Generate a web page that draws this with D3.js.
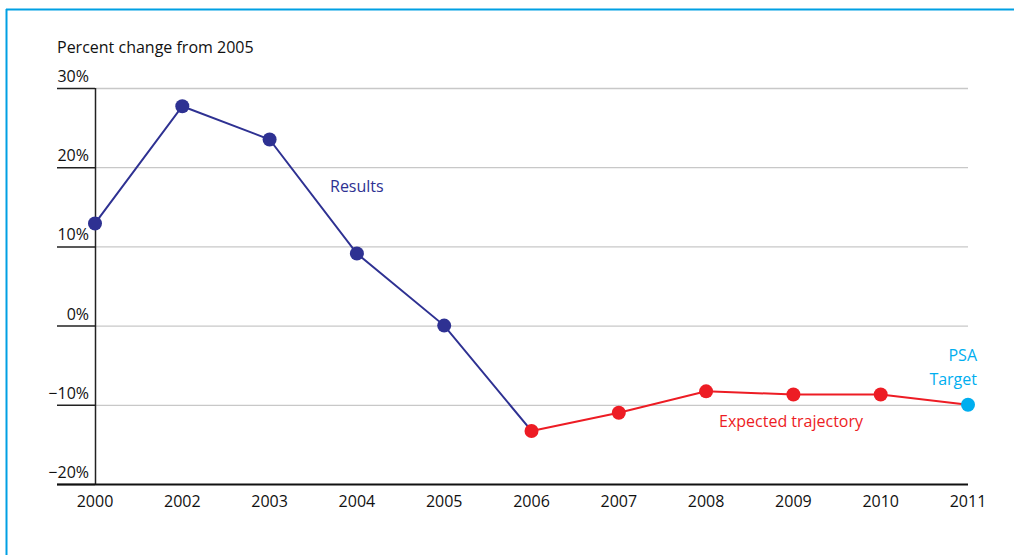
<!DOCTYPE html>
<html><head><meta charset="utf-8">
<script src="https://cdn.jsdelivr.net/npm/d3@7"></script>
<style>body{margin:0;background:#fff}svg{display:block}text{font-family:"Open Sans",sans-serif}</style>
</head><body>
<script>
const years = ["2000","2002","2003","2004","2005","2006","2007","2008","2009","2010","2011"];
const resultYears = ["2000","2002","2003","2004","2005","2006"];
const resultValues = [12.9, 27.7, 23.5, 9.1, 0, -13.3];
const expectedYears = ["2006","2007","2008","2009","2010","2011"];
const expectedValues = [-13.3, -11.0, -8.3, -8.7, -8.7, -10];
const targetYear = "2011";
const targetValue = -10;
const yTicks = [30, 20, 10, 0, -10, -20];
const yTickLabels = ["30%", "20%", "10%", "0%", "\u221210%", "\u221220%"];

const W = 1014, H = 555;
const FS = 16;
const svg = d3.select("body").append("svg").attr("width", W).attr("height", H);

// frame
svg.append("line").attr("x1",6.5).attr("x2",6.5).attr("y1",9).attr("y2",H).attr("stroke","#00a0e3").attr("stroke-width",2);
svg.append("line").attr("x1",6).attr("x2",W).attr("y1",9.5).attr("y2",9.5).attr("stroke","#00a0e3").attr("stroke-width",2);

const x = d3.scalePoint().domain(years).range([95, 968]);
const y = d3.scaleLinear().domain([-20, 30]).range([484, 88]);

// gridlines
svg.append("g").selectAll("line").data(yTicks.filter(d => d > -20)).join("line")
  .attr("x1", 95).attr("x2", 968).attr("y1", d => y(d)+0.5).attr("y2", d => y(d)+0.5)
  .attr("stroke", "#c8c8c8").attr("stroke-width", 1.3);

// tick marks
svg.append("g").selectAll("line").data(yTicks).join("line")
  .attr("x1", 57).attr("x2", 95).attr("y1", d => y(d)+0.5).attr("y2", d => y(d)+0.5)
  .attr("stroke", "#222").attr("stroke-width", 1.5);
svg.append("g").selectAll("text").data(yTicks).join("text")
  .attr("x", 89).attr("y", d => y(d) - 6).attr("text-anchor", "end")
  .attr("font-size", FS).attr("fill", "#111").text((d, i) => yTickLabels[i]);

// axes lines
svg.append("line").attr("x1", 95.5).attr("x2", 95.5).attr("y1", 88).attr("y2", 485).attr("stroke", "#222").attr("stroke-width", 1.5);
svg.append("line").attr("x1", 57).attr("x2", 968).attr("y1", y(-20)+0.5).attr("y2", y(-20)+0.5).attr("stroke", "#111").attr("stroke-width", 1.8);

svg.append("g").selectAll("text").data(years).join("text")
  .attr("x", d => x(d)).attr("y", 507).attr("text-anchor", "middle")
  .attr("font-size", FS).attr("fill", "#111").text(d => d);

svg.append("text").attr("x", 57).attr("y", 53).attr("font-size", FS).attr("fill", "#111").text("Percent change from 2005");

const line = d3.line().x(d => x(d[0])).y(d => y(d[1]));
const blue = "#2e3192", red = "#ed1c24", cyan = "#00aeef";
const res = resultYears.map((d, i) => [d, resultValues[i]]);
const exp = expectedYears.map((d, i) => [d, expectedValues[i]]);

svg.append("path").datum(res).attr("d", line).attr("fill", "none").attr("stroke", blue).attr("stroke-width", 2);
svg.append("path").datum(exp).attr("d", line).attr("fill", "none").attr("stroke", red).attr("stroke-width", 2);

svg.append("g").selectAll("circle").data(res.slice(0, 5)).join("circle")
  .attr("cx", d => x(d[0])).attr("cy", d => y(d[1])).attr("r", 7).attr("fill", blue);
svg.append("g").selectAll("circle").data(exp.slice(0, 5)).join("circle")
  .attr("cx", d => x(d[0])).attr("cy", d => y(d[1])).attr("r", 7).attr("fill", red);
svg.append("circle").attr("cx", x(targetYear)).attr("cy", y(targetValue)).attr("r", 7).attr("fill", cyan);

svg.append("text").attr("x", 330).attr("y", 192).attr("font-size", FS).attr("fill", blue).text("Results");
svg.append("text").attr("x", 719).attr("y", 427).attr("font-size", FS).attr("fill", red).text("Expected trajectory");
svg.append("text").attr("x", 977).attr("y", 361).attr("text-anchor", "end").attr("font-size", FS).attr("fill", cyan).text("PSA");
svg.append("text").attr("x", 977).attr("y", 385).attr("text-anchor", "end").attr("font-size", FS).attr("fill", cyan).text("Target");
</script>
</body></html>
